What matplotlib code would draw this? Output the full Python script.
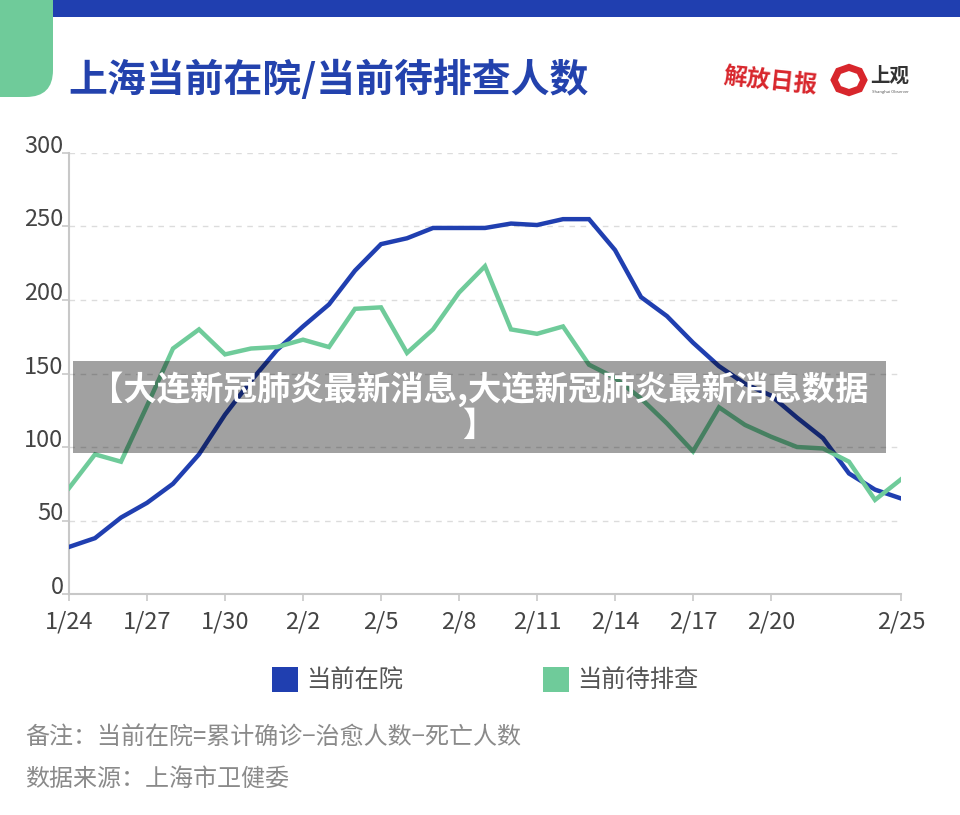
import numpy as np
import matplotlib
matplotlib.use("Agg")
import matplotlib.pyplot as plt
from matplotlib.patches import Rectangle, FancyBboxPatch, RegularPolygon

plt.rcParams['font.family'] = ['Noto Sans CJK SC', 'DejaVu Sans']

# Data: dates and daily counts
dates = [f"1/{d}" for d in range(24, 32)] + [f"2/{d}" for d in range(1, 26)]
in_hospital = [32, 38, 52, 62, 75, 95, 122, 145, 166, 182, 197, 220, 238, 242, 249, 249, 249,
               252, 251, 255, 255, 234, 202, 189, 171, 155, 143, 135, 120, 106, 82, 71, 65]
pending = [72, 95, 90, 128, 167, 180, 163, 167, 168, 173, 168, 194, 195, 164, 180, 205, 223,
           180, 177, 182, 156, 147, 133, 116, 97, 127, 115, 107, 100, 99, 90, 64, 78]
tick_dates = ["1/24", "1/27", "1/30", "2/2", "2/5", "2/8", "2/11", "2/14", "2/17", "2/20", "2/25"]
series_names = ["当前在院", "当前待排查"]

BLUE = "#203fb0"
GREEN = "#6fcb9a"
W, H = 960, 815


def fx(px):
    return px / W


def fy(py):
    return 1 - py / H


fig = plt.figure(figsize=(9.6, 8.15), dpi=100)

# Header decorations
fig.patches.append(Rectangle((fx(50), fy(17)), 1, 17 / H, transform=fig.transFigure,
                             facecolor=BLUE, edgecolor="none", zorder=1))
fig.patches.append(FancyBboxPatch((fx(-60), fy(97)), 113 / W, 200 / H,
                                  boxstyle="round,pad=0,rounding_size=0.028",
                                  transform=fig.transFigure, facecolor=GREEN,
                                  edgecolor="none", zorder=2, mutation_aspect=W / H))

fig.text(fx(68), fy(80), "上海当前在院/当前待排查人数", fontsize=28, fontweight="bold",
         color="#2342ad", va="center", ha="left")

# Logos (approximated with text)
fig.text(fx(770), fy(81), "解放日报", fontsize=17, fontweight="bold", color="#d8262c",
         ha="center", va="center", style="italic", rotation=-6)
fig.patches.append(RegularPolygon((fx(849), fy(80)), 8, radius=0.0155,
                                  transform=fig.transFigure, facecolor="white",
                                  edgecolor="#d8262c", linewidth=5, zorder=3))
fig.text(fx(890), fy(76), "上观", fontsize=14, fontweight="bold", color="#333333",
         ha="center", va="center")
fig.text(fx(890), fy(92), "Shanghai Observer", fontsize=3, color="#555555",
         ha="center", va="center")

# Main axes
ax = fig.add_axes([fx(69), fy(594), (901 - 69) / W, (594 - 153) / H])
x = np.arange(len(dates))
ax.plot(x, in_hospital, color=BLUE, linewidth=3.2, solid_joinstyle="miter", zorder=3)
ax.plot(x, pending, color=GREEN, linewidth=3.2, solid_joinstyle="miter", zorder=3)

ax.set_xlim(0, len(dates) - 1)
ax.set_ylim(0, 300)
ax.set_yticks(range(0, 301, 50))
ax.set_xticks([dates.index(d) for d in tick_dates])
ax.set_xticklabels(tick_dates)

for s in ["top", "right"]:
    ax.spines[s].set_visible(False)
for s in ["left", "bottom"]:
    ax.spines[s].set_color("#c8c8c8")
    ax.spines[s].set_linewidth(1.5)

ax.grid(axis="y", linestyle=(0, (4, 4)), color="#dcdcdc", linewidth=1)
ax.set_axisbelow(True)
ax.tick_params(axis="x", length=5, width=1.2, color="#c8c8c8", labelsize=17,
               labelcolor="#444444", pad=7)
ax.tick_params(axis="y", length=5, width=1.2, color="#c8c8c8", labelsize=17,
               labelcolor="#444444", pad=-1)
for lab in ax.get_yticklabels():
    lab.set_verticalalignment("baseline")

# Overlay banner
fig.patches.append(Rectangle((fx(73), fy(453)), (886 - 73) / W, (453 - 361) / H,
                             transform=fig.transFigure, facecolor="black", alpha=0.37,
                             edgecolor="none", zorder=5))
fig.text(fx(479), fy(389), "【大连新冠肺炎最新消息,大连新冠肺炎最新消息数据", fontsize=24,
         fontweight="bold", color="white", ha="center", va="center", zorder=6)
fig.text(fx(479), fy(426), "】", fontsize=24, fontweight="bold", color="white",
         ha="center", va="center", zorder=6)

# Legend
for px, col, name in [(272, BLUE, series_names[0]), (543, GREEN, series_names[1])]:
    fig.patches.append(Rectangle((fx(px), fy(692)), 26 / W, 25 / H, transform=fig.transFigure,
                                 facecolor=col, edgecolor="none", zorder=3))
    fig.text(fx(px + 34), fy(680), name, fontsize=17.5, color="#555555", ha="left", va="center")

# Notes
fig.text(fx(25), fy(737), "备注：当前在院=累计确诊−治愈人数−死亡人数", fontsize=17.3,
         color="#8a8a8a", ha="left", va="center")
fig.text(fx(25), fy(779), "数据来源：上海市卫健委", fontsize=17.3, color="#8a8a8a",
         ha="left", va="center")

fig.savefig("out.png", dpi=100)
